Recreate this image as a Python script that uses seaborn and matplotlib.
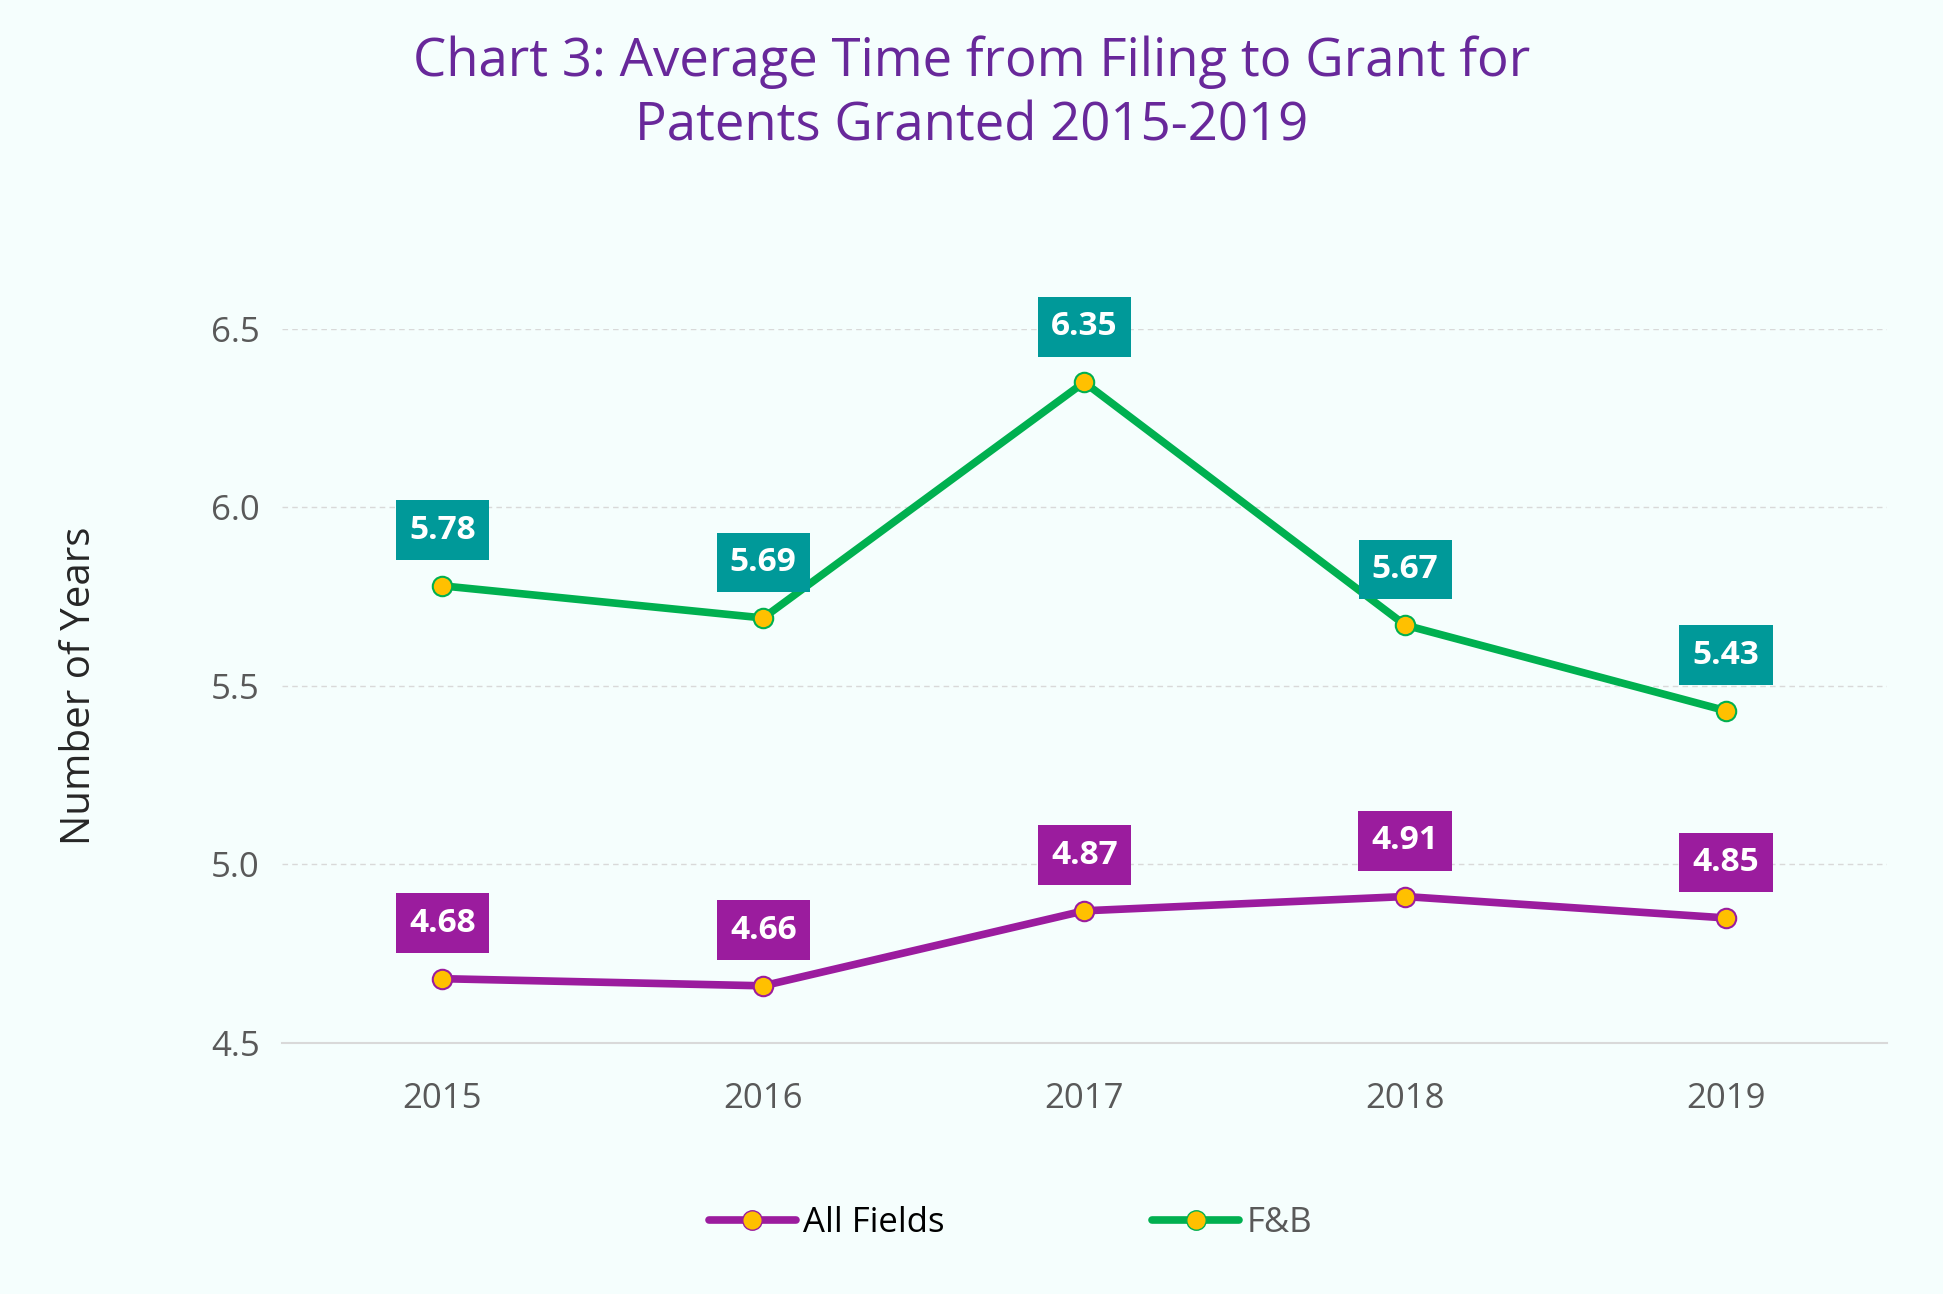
import matplotlib
matplotlib.use("Agg")
import matplotlib.pyplot as plt
import seaborn as sns
import pandas as pd

years = ["2015", "2016", "2017", "2018", "2019"]
all_fields = [4.68, 4.66, 4.87, 4.91, 4.85]
fb = [5.78, 5.69, 6.35, 5.67, 5.43]

bg = "#F5FEFD"
sns.set_theme(style="white")
plt.rcParams['font.family'] = ['Open Sans', 'DejaVu Sans']

df = pd.DataFrame({"Year": years * 2, "Years": all_fields + fb,
                   "Series": ["All Fields"] * 5 + ["F&B"] * 5})

fig = plt.figure(figsize=(19.43, 12.94), dpi=100, facecolor=bg)
ax = fig.add_axes([0.145, 0.194, 0.826, 0.552], facecolor=bg)
palette = {"All Fields": "#9B1C9E", "F&B": "#00B050"}
sns.lineplot(data=df, x="Year", y="Years", hue="Series", palette=palette, ax=ax,
             linewidth=5.5, marker="o", markersize=14, markerfacecolor="#FFC000",
             markeredgewidth=1.5, legend=False, sort=False)
for line, c in zip(ax.lines, ["#9B1C9E", "#00B050"]):
    line.set_markeredgecolor(c)
    line.set_clip_on(False)

ax.set_xlim(-0.5, 4.5)
ax.set_ylim(4.5, 6.5)
ax.set_yticks([4.5, 5.0, 5.5, 6.0, 6.5])
ax.set_yticklabels(["4.5", "5.0", "5.5", "6.0", "6.5"])
ax.yaxis.grid(True, color="#D9D9D9", linestyle=(0, (4, 3)), linewidth=1)
for s in ["top", "right", "left"]:
    ax.spines[s].set_visible(False)
ax.spines["bottom"].set_color("#D9D9D9")
ax.spines["bottom"].set_linewidth(1.5)
ax.tick_params(axis="both", labelsize=25, colors="#595959", length=0, pad=16)
ax.tick_params(axis="x", pad=28)
ax.set_xlabel("")
ax.set_ylabel("Number of Years", fontsize=29, color="#262626", labelpad=80)

for i, v in enumerate(all_fields):
    ax.annotate(f"{v:.2f}", (i, v), xytext=(0, 40), textcoords="offset points",
                ha="center", va="center", fontsize=24, fontweight="bold", color="white",
                bbox=dict(boxstyle="square,pad=0.4", fc="#9B1C9E", ec="none"))
for i, v in enumerate(fb):
    ax.annotate(f"{v:.2f}", (i, v), xytext=(0, 40), textcoords="offset points",
                ha="center", va="center", fontsize=24, fontweight="bold", color="white",
                bbox=dict(boxstyle="square,pad=0.4", fc="#009999", ec="none"))

fig.text(0.5, 0.927, "Chart 3: Average Time from Filing to Grant for\nPatents Granted 2015-2019",
         ha="center", va="center", fontsize=38, color="#68289A", linespacing=1.25)

from matplotlib.lines import Line2D
handles = [Line2D([], [], color=palette[k], lw=5.5, marker="o", markersize=14,
                  markerfacecolor="#FFC000", markeredgecolor=palette[k]) for k in palette]
leg = fig.legend(handles, list(palette), loc="center", bbox_to_anchor=(0.52, 0.055),
                 ncol=2, frameon=False, fontsize=25, columnspacing=6, handlelength=2.5,
                 handletextpad=0.2)
leg.get_texts()[0].set_color("#000000")
leg.get_texts()[1].set_color("#595959")

fig.savefig("out.png", dpi=100, facecolor=bg)
